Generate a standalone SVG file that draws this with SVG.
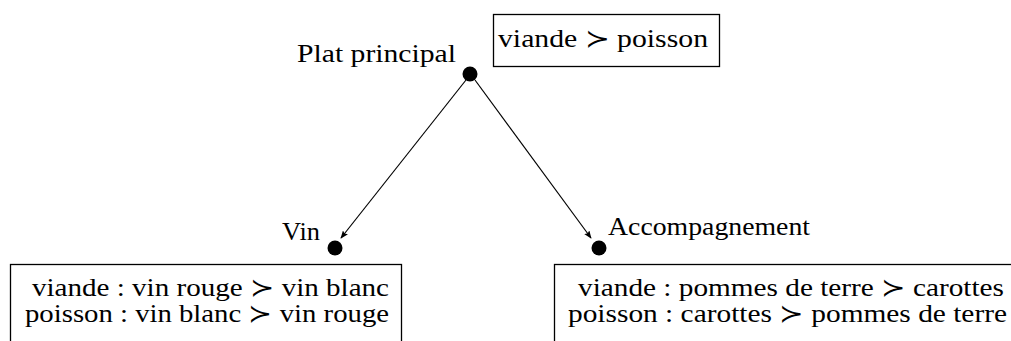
<svg xmlns="http://www.w3.org/2000/svg" width="1011" height="341" viewBox="0 0 1011 341">
<style>
text{font-family:"Liberation Serif","DejaVu Serif",serif;font-size:25px;fill:#000}
.box{fill:#fff;stroke:#000;stroke-width:1.3}
.dot{fill:#000}
.edge{stroke:#000;stroke-width:1.2;fill:none;marker-end:url(#ah)}
</style>
<defs>
<marker id="ah" viewBox="0 0 10 8" refX="9" refY="4" markerWidth="8" markerHeight="6.4" markerUnits="userSpaceOnUse" orient="auto">
<path d="M0,0 L10,4 L0,8 L2,4 Z" fill="#000"/>
</marker>
</defs>
<rect width="1011" height="341" fill="#fff"/>
<g id="connectors">
<line class="edge" x1="466" y1="80" x2="341" y2="238"/>
<line class="edge" x1="475" y1="80" x2="591" y2="238"/>
</g>
<g id="plat">
<circle class="dot" cx="470" cy="74" r="7.5"/>
<text x="297" y="62" textLength="159" lengthAdjust="spacingAndGlyphs">Plat principal</text>
</g>
<g id="plat-pref">
<rect class="box" x="493.5" y="14.5" width="226" height="52"/>
<text x="498" y="47" textLength="210" lengthAdjust="spacingAndGlyphs">viande ≻ poisson</text>
</g>
<g id="vin">
<circle class="dot" cx="335" cy="248" r="7.5"/>
<text x="282" y="240" textLength="38" lengthAdjust="spacingAndGlyphs">Vin</text>
</g>
<g id="vin-pref">
<rect class="box" x="10.5" y="264.5" width="391" height="100"/>
<text x="32" y="296" textLength="357" lengthAdjust="spacingAndGlyphs">viande : vin rouge ≻ vin blanc</text>
<text x="25" y="322" textLength="364" lengthAdjust="spacingAndGlyphs">poisson : vin blanc ≻ vin rouge</text>
</g>
<g id="accompagnement">
<circle class="dot" cx="599" cy="248" r="7.5"/>
<text x="608" y="235" textLength="202" lengthAdjust="spacingAndGlyphs">Accompagnement</text>
</g>
<g id="accompagnement-pref">
<rect class="box" x="554.5" y="264.5" width="480" height="100"/>
<text x="578" y="296" textLength="426" lengthAdjust="spacingAndGlyphs">viande : pommes de terre ≻ carottes</text>
<text x="568" y="322" textLength="439" lengthAdjust="spacingAndGlyphs">poisson : carottes ≻ pommes de terre</text>
</g>
</svg>
